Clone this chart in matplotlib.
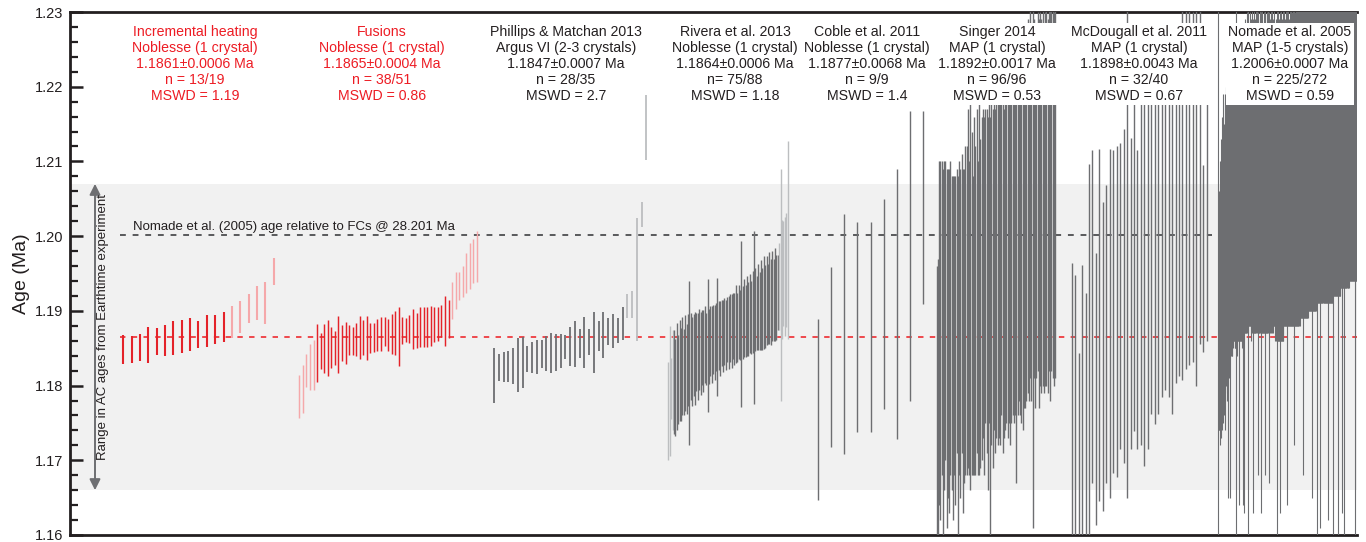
import numpy as np
import matplotlib
matplotlib.use("Agg")
import matplotlib.pyplot as plt
from matplotlib.ticker import MultipleLocator, FormatStrFormatter

plt.rcParams['font.family'] = ['Liberation Sans', 'DejaVu Sans']

# ---------------- data (ages in Ma, 2-sigma half errors) ----------------
# Incremental heating (13 accepted + 6 rejected)
ih_age = [1.18481, 1.18483, 1.18512, 1.18546, 1.18593, 1.18606, 1.18635, 1.18657,
          1.18686, 1.18689, 1.18733, 1.18753, 1.18786,
          1.18853, 1.18920, 1.19027, 1.19105, 1.19107, 1.19526]
ih_err = [0.00196, 0.00185, 0.00183, 0.00239, 0.00183, 0.00210, 0.00225, 0.00221,
          0.00219, 0.00181, 0.00212, 0.00192, 0.00203,
          0.00212, 0.00212, 0.00194, 0.00228, 0.00283, 0.00185]
ih_used = [1] * 13 + [0] * 6

# Fusions (5 rejected low, 38 accepted, 8 rejected high)
fu_age = [1.17853, 1.17955, 1.18205, 1.18245, 1.18274,
          1.18441, 1.18463, 1.18501, 1.18501, 1.18508, 1.18503, 1.18548, 1.18568,
          1.18568, 1.18606, 1.18599, 1.18619, 1.18641, 1.18641, 1.18639, 1.18639,
          1.18648, 1.18675, 1.18693, 1.18724, 1.18675, 1.18686, 1.18702, 1.18657,
          1.18735, 1.18744, 1.18757, 1.18753, 1.18742, 1.18784, 1.18784, 1.18784,
          1.18797, 1.18820, 1.18822, 1.18866, 1.18864, 1.18891,
          1.19141, 1.19272, 1.19330, 1.19392, 1.19506, 1.19595, 1.19666, 1.19726]
fu_err = [0.00290, 0.00316, 0.00223, 0.00307, 0.00336,
          0.00388, 0.00245, 0.00328, 0.00372, 0.00276, 0.00227, 0.00383, 0.00238,
          0.00283, 0.00201, 0.00189, 0.00223, 0.00290, 0.00236, 0.00292, 0.00198,
          0.00194, 0.00212, 0.00229, 0.00194, 0.00212, 0.00267, 0.00296, 0.00394,
          0.00183, 0.00156, 0.00183, 0.00267, 0.00234, 0.00267, 0.00272, 0.00270,
          0.00267, 0.00236, 0.00229, 0.00212, 0.00334, 0.00250,
          0.00245, 0.00252, 0.00189, 0.00207, 0.00272, 0.00307, 0.00290, 0.00341]
fu_used = [0] * 5 + [1] * 38 + [0] * 8

# Phillips & Matchan 2013
pm_age = [1.18136, 1.18240, 1.18252, 1.18256, 1.18263, 1.18274, 1.18305, 1.18354,
          1.18376, 1.18383, 1.18423, 1.18428, 1.18441, 1.18441, 1.18461, 1.18512,
          1.18526, 1.18557, 1.18563, 1.18575, 1.18584, 1.18581, 1.18664, 1.18679,
          1.18724, 1.18726, 1.18737, 1.18833,
          1.19065, 1.19080, 1.19419, 1.20286, 1.21460]
pm_err = [0.00363, 0.00178, 0.00203, 0.00203, 0.00245, 0.00359, 0.00341, 0.00172,
          0.00212, 0.00223, 0.00183, 0.00236, 0.00267, 0.00245, 0.00229, 0.00160,
          0.00263, 0.00307, 0.00198, 0.00343, 0.00169, 0.00408, 0.00201, 0.00305,
          0.00180, 0.00227, 0.00172, 0.00218,
          0.00165, 0.00180, 0.00822, 0.00165, 0.00435]
pm_used = [1] * 28 + [0] * 5

# Rivera et al. 2013
rv_age = [1.1766, 1.1793, 1.1796, 1.1808,
          1.1805, 1.1798, 1.1812, 1.1808, 1.1820, 1.1815, 1.1826, 1.1818, 1.1830, 1.1822,
          1.1834, 1.1830, 1.1839, 1.1832, 1.1841, 1.1836, 1.1845, 1.1839, 1.1848, 1.1843,
          1.1851, 1.1846, 1.1855, 1.1849, 1.1853, 1.1852, 1.1860, 1.1855, 1.1862, 1.1858,
          1.1865, 1.1865, 1.1867, 1.1863, 1.1870, 1.1866, 1.1872, 1.1868, 1.1875, 1.1871,
          1.1877, 1.1873, 1.1880, 1.1876, 1.1882, 1.1878, 1.1885, 1.1881, 1.1882, 1.1884,
          1.1890, 1.1886, 1.1893, 1.1889, 1.1896, 1.1891, 1.1899, 1.1891, 1.1902, 1.1897,
          1.1905, 1.1900, 1.1908, 1.1903, 1.1911, 1.1906, 1.1914, 1.1909, 1.1917, 1.1912,
          1.1920, 1.1915, 1.1922, 1.1918, 1.1925,
          1.1933, 1.1935, 1.1942, 1.1950, 1.1946, 1.1955, 1.1995]
rv_err = [0.0066, 0.0087, 0.0041, 0.0067,
          0.0070, 0.0065, 0.0072, 0.0060, 0.0068, 0.0062, 0.0066, 0.0058, 0.0064, 0.0060,
          0.0062, 0.0110, 0.0058, 0.0060, 0.0055, 0.0062, 0.0052, 0.0058, 0.0054, 0.0056,
          0.0050, 0.0055, 0.0052, 0.0048, 0.0089, 0.0050, 0.0047, 0.0052, 0.0046, 0.0050,
          0.0045, 0.0079, 0.0046, 0.0050, 0.0044, 0.0048, 0.0045, 0.0047, 0.0043, 0.0049,
          0.0046, 0.0050, 0.0044, 0.0048, 0.0052, 0.0046, 0.0050, 0.0047, 0.0111, 0.0049,
          0.0052, 0.0048, 0.0054, 0.0050, 0.0053, 0.0049, 0.0055, 0.0116, 0.0056, 0.0050,
          0.0058, 0.0052, 0.0060, 0.0055, 0.0062, 0.0056, 0.0060, 0.0054, 0.0062, 0.0058,
          0.0060, 0.0055, 0.0062, 0.0057, 0.0050,
          0.0058, 0.0155, 0.0080, 0.0070, 0.0080, 0.0076, 0.0133]
rv_used = [0] * 4 + [1] * 75 + [0] * 7

# Coble et al. 2011
co_age = [1.17679, 1.18383, 1.18686, 1.18789, 1.18789, 1.19092, 1.19087, 1.19738, 1.20388]
co_err = [0.01208, 0.01203, 0.01604, 0.01404, 0.01404, 0.01399, 0.01805, 0.01943, 0.01292]

# Singer 2014
si_age = [1.176, 1.178, 1.187, 1.186, 1.189, 1.184, 1.188, 1.190, 1.185, 1.187, 1.186, 1.189,
          1.187, 1.185, 1.188, 1.186, 1.190, 1.184, 1.189, 1.187, 1.191, 1.186, 1.188, 1.190,
          1.190, 1.193, 1.189, 1.196, 1.191, 1.188, 1.192, 1.190, 1.194, 1.189, 1.193, 1.191,
          1.193, 1.195, 1.192, 1.196, 1.194, 1.191, 1.197, 1.188, 1.195, 1.193, 1.196, 1.194,
          1.197, 1.195, 1.198, 1.196, 1.199, 1.197, 1.195, 1.198, 1.200, 1.196, 1.199, 1.197,
          1.199, 1.201, 1.198, 1.202, 1.196, 1.200, 1.203, 1.199, 1.201, 1.198, 1.202, 1.200,
          1.202, 1.204, 1.201, 1.207, 1.203, 1.196, 1.205, 1.202, 1.204, 1.206, 1.203, 1.205,
          1.204, 1.206, 1.203, 1.205, 1.207, 1.204, 1.208, 1.206, 1.209, 1.207, 1.205, 1.208]
si_err = [0.020, 0.019, 0.023, 0.024, 0.021, 0.025, 0.022, 0.020, 0.024, 0.022, 0.023, 0.021,
          0.021, 0.023, 0.020, 0.022, 0.019, 0.024, 0.021, 0.022, 0.020, 0.023, 0.021, 0.022,
          0.022, 0.024, 0.021, 0.030, 0.023, 0.020, 0.024, 0.022, 0.023, 0.021, 0.025, 0.022,
          0.023, 0.022, 0.024, 0.021, 0.023, 0.025, 0.022, 0.028, 0.023, 0.024, 0.022, 0.023,
          0.024, 0.023, 0.025, 0.024, 0.023, 0.026, 0.022, 0.024, 0.025, 0.023, 0.024, 0.025,
          0.024, 0.025, 0.023, 0.026, 0.029, 0.024, 0.025, 0.023, 0.026, 0.024, 0.025, 0.023,
          0.024, 0.025, 0.023, 0.026, 0.025, 0.035, 0.024, 0.025, 0.023, 0.024, 0.026, 0.025,
          0.025, 0.026, 0.024, 0.025, 0.027, 0.025, 0.026, 0.028, 0.027, 0.026, 0.025, 0.027]

# McDougall et al. 2011
md_age = [1.1762, 1.1749, 1.1682, 1.1766, 1.1742, 1.1838, 1.1892, 1.1795, 1.1881, 1.1839,
          1.1869, 1.1883, 1.1899, 1.1899, 1.1920, 1.1920, 1.1985, 1.1923, 1.1965, 1.1915,
          1.1955, 1.1946, 1.1963, 1.1991, 1.1974, 1.1996, 1.2018, 1.2017, 1.2023, 1.1996,
          1.2027, 1.2042, 1.2064, 1.2066, 1.2079, 1.2066, 1.2055, 1.2088, 1.1970, 1.2030]
md_err = [0.0202, 0.0199, 0.0162, 0.0196, 0.0182, 0.0258, 0.0223, 0.0182, 0.0235, 0.0207,
          0.0200, 0.0233, 0.0216, 0.0221, 0.0205, 0.0223, 0.0335, 0.0208, 0.0226, 0.0200,
          0.0235, 0.0254, 0.0248, 0.0229, 0.0226, 0.0234, 0.0233, 0.0223, 0.0238, 0.0234,
          0.0223, 0.0229, 0.0256, 0.0244, 0.0252, 0.0234, 0.0255, 0.0233, 0.0125, 0.0170]

# Nomade et al. 2005
no_age = [1.195, 1.188, 1.190, 1.187, 1.192, 1.189, 1.194, 1.191, 1.196, 1.193, 1.198, 1.195, 1.197, 1.199, 1.196, 1.200,
          1.200, 1.202, 1.199, 1.195, 1.203, 1.201, 1.204, 1.192, 1.202, 1.205, 1.203, 1.201, 1.206, 1.204, 1.202, 1.205,
          1.203, 1.205, 1.198, 1.204, 1.206, 1.202, 1.205, 1.207, 1.193, 1.204, 1.206, 1.203, 1.207, 1.205, 1.202, 1.206,
          1.205, 1.195, 1.193, 1.206, 1.208, 1.204, 1.207, 1.205, 1.209, 1.206, 1.204, 1.200, 1.208, 1.206, 1.209, 1.207,
          1.205, 1.208, 1.212, 1.206, 1.196, 1.207, 1.209, 1.205, 1.208, 1.206, 1.210, 1.207, 1.213, 1.199, 1.208, 1.206,
          1.2075, 1.2125, 1.2055, 1.2085, 1.1965, 1.2065, 1.2095, 1.2075, 1.2045, 1.2085, 1.2065, 1.1995, 1.2095, 1.2075, 1.2055, 1.2085,
          1.2065, 1.2095, 1.2075, 1.2055, 1.1985, 1.2085, 1.2065, 1.2105, 1.2075, 1.2055, 1.2095, 1.2065, 1.2085, 1.2075, 1.2105, 1.2065,
          1.2055, 1.2075, 1.2045, 1.2050, 1.2085, 1.2065, 1.2045, 1.2075, 1.2055, 1.1965, 1.2085, 1.2065, 1.2045, 1.2075, 1.2055, 1.2085,
          1.2075, 1.2095, 1.2065, 1.2085, 1.2105, 1.2075, 1.1975, 1.2095, 1.2075, 1.2105, 1.2085, 1.2065, 1.2095, 1.2075, 1.2105, 1.2085,
          1.209, 1.207, 1.210, 1.208, 1.200, 1.211, 1.209, 1.207, 1.210, 1.208, 1.211, 1.209, 1.207, 1.210, 1.212, 1.209,
          1.210, 1.208, 1.211, 1.209, 1.212, 1.210, 1.201, 1.211, 1.209, 1.212, 1.210, 1.208, 1.211, 1.213, 1.210, 1.212,
          1.211, 1.209, 1.212, 1.210, 1.213, 1.211, 1.209, 1.200, 1.212, 1.210, 1.213, 1.211, 1.209, 1.212, 1.214, 1.211,
          1.212, 1.210, 1.205, 1.213, 1.211, 1.214, 1.212, 1.198, 1.213, 1.211, 1.214, 1.212, 1.215, 1.213, 1.211, 1.216,
          1.213, 1.216, 1.212, 1.215, 1.213, 1.217, 1.200, 1.214, 1.216, 1.213, 1.217, 1.215, 1.212, 1.216, 1.214, 1.217,
          1.214, 1.205, 1.216, 1.213, 1.217, 1.215, 1.212, 1.216, 1.214, 1.218, 1.194, 1.215, 1.217, 1.213, 1.216, 1.214,
          1.215, 1.217, 1.214, 1.203, 1.216, 1.218, 1.207, 1.215, 1.217, 1.214, 1.218, 1.216, 1.213, 1.217, 1.215, 1.219,
          1.216, 1.218, 1.215, 1.219, 1.217, 1.214, 1.218, 1.216, 1.219, 1.217, 1.215, 1.198, 1.218, 1.216, 1.219, 1.217]
no_err = [0.040, 0.014, 0.016, 0.015, 0.018, 0.016, 0.019, 0.017, 0.020, 0.018, 0.021, 0.019, 0.018, 0.020, 0.022, 0.019,
          0.020, 0.019, 0.021, 0.030, 0.018, 0.020, 0.019, 0.027, 0.018, 0.020, 0.019, 0.017, 0.021, 0.018, 0.016, 0.019,
          0.018, 0.020, 0.045, 0.019, 0.020, 0.018, 0.019, 0.021, 0.029, 0.018, 0.020, 0.017, 0.021, 0.019, 0.017, 0.020,
          0.019, 0.031, 0.030, 0.019, 0.021, 0.017, 0.020, 0.018, 0.021, 0.019, 0.017, 0.045, 0.020, 0.018, 0.021, 0.019,
          0.019, 0.021, 0.025, 0.019, 0.033, 0.020, 0.022, 0.018, 0.021, 0.019, 0.022, 0.020, 0.025, 0.031, 0.021, 0.019,
          0.0205, 0.0245, 0.0185, 0.0215, 0.0335, 0.0195, 0.0225, 0.0205, 0.0175, 0.0215, 0.0195, 0.0315, 0.0215, 0.0205, 0.0185, 0.0215,
          0.0195, 0.0215, 0.0205, 0.0185, 0.0315, 0.0205, 0.0195, 0.0225, 0.0205, 0.0185, 0.0215, 0.0195, 0.0205, 0.0195, 0.0225, 0.0185,
          0.0195, 0.0215, 0.0185, 0.0480, 0.0225, 0.0205, 0.0185, 0.0215, 0.0195, 0.0335, 0.0225, 0.0205, 0.0185, 0.0215, 0.0195, 0.0225,
          0.0195, 0.0215, 0.0185, 0.0205, 0.0225, 0.0195, 0.0335, 0.0215, 0.0195, 0.0225, 0.0205, 0.0185, 0.0215, 0.0195, 0.0225, 0.0205,
          0.021, 0.019, 0.022, 0.020, 0.028, 0.023, 0.021, 0.019, 0.022, 0.020, 0.023, 0.021, 0.019, 0.022, 0.024, 0.021,
          0.021, 0.019, 0.022, 0.020, 0.023, 0.021, 0.033, 0.022, 0.020, 0.023, 0.021, 0.019, 0.022, 0.024, 0.021, 0.023,
          0.021, 0.019, 0.022, 0.020, 0.023, 0.021, 0.019, 0.035, 0.022, 0.020, 0.023, 0.021, 0.019, 0.022, 0.024, 0.021,
          0.021, 0.019, 0.050, 0.022, 0.020, 0.023, 0.021, 0.037, 0.022, 0.020, 0.023, 0.021, 0.024, 0.022, 0.020, 0.025,
          0.022, 0.025, 0.021, 0.024, 0.022, 0.026, 0.038, 0.023, 0.025, 0.022, 0.026, 0.024, 0.021, 0.025, 0.023, 0.026,
          0.022, 0.050, 0.024, 0.021, 0.025, 0.023, 0.020, 0.024, 0.022, 0.026, 0.035, 0.023, 0.025, 0.021, 0.024, 0.022,
          0.022, 0.024, 0.021, 0.040, 0.023, 0.025, 0.050, 0.022, 0.024, 0.021, 0.025, 0.023, 0.020, 0.024, 0.022, 0.026,
          0.022, 0.024, 0.021, 0.025, 0.023, 0.020, 0.024, 0.022, 0.025, 0.023, 0.021, 0.040, 0.024, 0.022, 0.025, 0.023]

labels = [
    "Incremental heating\nNoblesse (1 crystal)\n1.1861\u00b10.0006 Ma\nn = 13/19\nMSWD = 1.19",
    "Fusions\nNoblesse (1 crystal)\n1.1865\u00b10.0004 Ma\nn = 38/51\nMSWD = 0.86",
    "Phillips & Matchan 2013\nArgus VI (2-3 crystals)\n1.1847\u00b10.0007 Ma\nn = 28/35\nMSWD = 2.7",
    "Rivera et al. 2013\nNoblesse (1 crystal)\n1.1864\u00b10.0006 Ma\nn= 75/88\nMSWD = 1.18",
    "Coble et al. 2011\nNoblesse (1 crystal)\n1.1877\u00b10.0068 Ma\nn = 9/9\nMSWD = 1.4",
    "Singer 2014\nMAP (1 crystal)\n1.1892\u00b10.0017 Ma\nn = 96/96\nMSWD = 0.53",
    "McDougall et al. 2011\nMAP (1 crystal)\n1.1898\u00b10.0043 Ma\nn = 32/40\nMSWD = 0.67",
    "Nomade et al. 2005\nMAP (1-5 crystals)\n1.2006\u00b10.0007 Ma\nn = 225/272\nMSWD = 0.59",
]

ac_range = (1.166, 1.207)
ref_mean = 1.1865
nomade_fcs = 1.2002

# ---------------- layout ----------------
W, H = 1366, 542
RED, PINK = '#e42229', '#f5a8aa'
DARK, LIGHT = '#6d6e71', '#bcbec0'
TRED = '#ed1c24'
TBLK = '#231f20'

fig = plt.figure(figsize=(W / 100, H / 100), dpi=100)
ax = fig.add_axes([70 / W, 7 / H, 1287 / W, 523 / H])
ax.set_xlim(0, 1287)
ax.set_ylim(1.16, 1.23)

ax.axhspan(*ac_range, color='#f1f1f1', zorder=0, lw=0)

ax.plot([50, 1287], [ref_mean, ref_mean], color='#ee3b3f', lw=1.3,
        dashes=(3, 3.5), zorder=1)
ax.plot([50, 1142], [nomade_fcs, nomade_fcs], color='#58595b', lw=1.4,
        dashes=(3, 3.5), zorder=1)
ax.text(63, nomade_fcs + 0.0002, "Nomade et al. (2005) age relative to FCs @ 28.201 Ma",
        fontsize=9.5, color=TBLK, va='bottom', ha='left', zorder=2)


def draw(x0, x1, ages, errs, used, c_used, c_rej, lw):
    ages = np.asarray(ages)
    errs = np.asarray(errs)
    xs = np.linspace(x0, x1, len(ages))
    cols = [c_used if u else c_rej for u in used]
    ax.vlines(xs, ages - errs, ages + errs, colors=cols, lw=lw, zorder=3)


draw(53.3, 203.6, ih_age, ih_err, ih_used, RED, PINK, 1.5)
draw(229.3, 407.0, fu_age, fu_err, fu_used, RED, PINK, 1.05)
draw(424.0, 576.3, pm_age, pm_err, pm_used, DARK, LIGHT, 1.3)
draw(598.3, 717.7, rv_age, rv_err, rv_used, DARK, LIGHT, 1.0)
draw(748.0, 853.0, co_age, co_err, [1] * len(co_age), DARK, LIGHT, 1.0)
draw(866.7, 985.0, si_age, si_err, [1] * len(si_age), DARK, LIGHT, 1.0)
draw(1001.7, 1136.7, md_age, md_err, [1] * len(md_age), DARK, LIGHT, 1.0)
draw(1148.3, 1286.7, no_age, no_err, [1] * len(no_age), DARK, LIGHT, 0.8)

# group headers
label_x = [125, 312, 496, 665, 797, 927, 1069, 1220]
label_col = [TRED, TRED, TBLK, TBLK, TBLK, TBLK, TBLK, TBLK]
for i, (lx, txt, col) in enumerate(zip(label_x, labels, label_col)):
    kw = {}
    if i >= 5:
        kw['bbox'] = dict(facecolor='white', edgecolor='none', pad=1.5)
    ax.text(lx, 1.2230, txt, ha='center', va='center', fontsize=10.2,
            color=col, linespacing=1.18, zorder=6, multialignment='center', **kw)

# AC range arrow
ax.annotate('', xy=(25, ac_range[1]), xytext=(25, ac_range[0]),
            arrowprops=dict(arrowstyle='<|-|>', color=DARK, lw=1.4,
                            mutation_scale=16, shrinkA=0, shrinkB=0), zorder=4)
ax.text(33, 1.1878, "Range in AC ages from Earthtime experiment", rotation=90,
        fontsize=9.5, color=TBLK, ha='center', va='center', zorder=4)

# axes styling
for s in ['left', 'top', 'bottom']:
    ax.spines[s].set_linewidth(2.0)
    ax.spines[s].set_color('#231f20')
ax.spines['right'].set_visible(False)
ax.set_xticks([])
ax.yaxis.set_major_locator(MultipleLocator(0.01))
ax.yaxis.set_minor_locator(MultipleLocator(0.002))
ax.yaxis.set_major_formatter(FormatStrFormatter('%.2f'))
ax.tick_params(axis='y', which='major', direction='in', length=9, width=1.8,
               labelsize=10.5, pad=5, colors='#231f20')
ax.tick_params(axis='y', which='minor', direction='in', length=5.5, width=1.6,
               colors='#231f20')
ax.set_ylabel("Age (Ma)", fontsize=14, color=TBLK)
ax.yaxis.set_label_coords(-0.031, 0.5)

fig.savefig("out.png", dpi=100)
